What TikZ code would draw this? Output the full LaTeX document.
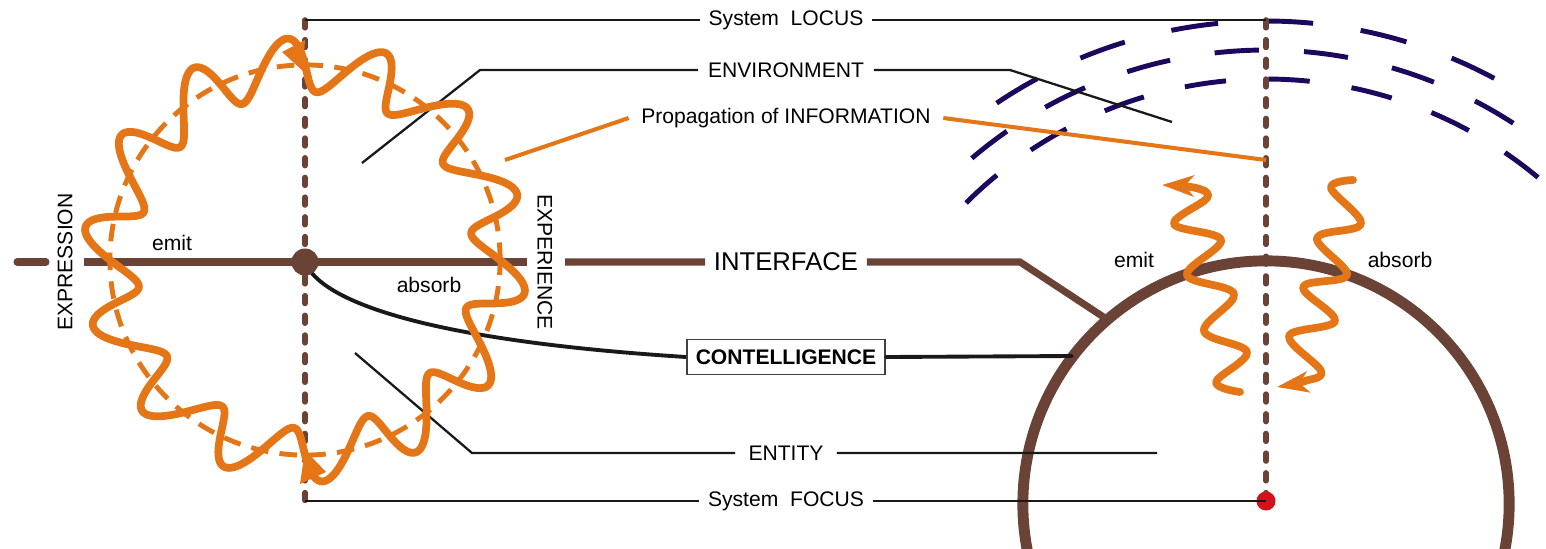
\documentclass[tikz,border=0pt]{standalone}
\usepackage{fontspec}
\setmainfont{Liberation Sans}
\usetikzlibrary{arrows.meta,positioning,calc}

\definecolor{orangewave}{RGB}{228,118,24}
\definecolor{brownbar}{RGB}{107,66,54}
\definecolor{navyarc}{RGB}{28,8,92}
\definecolor{focusred}{RGB}{208,18,28}

\begin{document}
\begin{tikzpicture}[
    x=0.01cm, y=-0.01cm,
    lbl/.style={font=\fontsize{6}{7.2}\selectfont, inner sep=2.3pt},
    guide/.style={draw=black!90, line width=0.65pt},
    bar/.style={draw=brownbar, line width=2pt},
    vaxis/.style={draw=brownbar, line width=1.6pt, line cap=round, dash pattern=on 2.2pt off 3.4pt},
    wave/.style={draw=orangewave, line width=2.2pt, line cap=round, line join=round},
    infoline/.style={draw=orangewave, line width=1.15pt},
    arcdash/.style={draw=navyarc, line width=1.4pt},
    wavetip/.style={-{Stealth[length=9pt, width=6pt, inset=2.5pt]}},
    dot/.style={circle, inner sep=0pt}
]
    % page frame
    \useasboundingbox (0,0) rectangle (1546,548);

    % outgoing fronts of the environment
    \foreach \r/\a/\n in {483/123.9/5, 454/130.4/6, 425/134.9/7}
        \foreach \k in {0,...,\n} {
            \pgfmathsetmacro{\sa}{\a-11.3*\k}
            \pgfmathsetmacro{\ea}{\sa-5.6}
            \draw[arcdash] plot[domain=\sa:\ea, samples=10, variable=\t] ({1266+\r*cos(\t)}, {504-\r*sin(\t)});
        }

    % the entity (big ring)
    \draw[brownbar, line width=3.1pt] (1266,504) circle[radius=2.43cm];

    % system axes
    \coordinate (ltop) at (305,20);
    \coordinate (lbot) at (305,501);
    \coordinate (rtop) at (1266,20);
    \coordinate (rbot) at (1266,501);
    \draw[vaxis] (ltop) -- (lbot);
    \draw[vaxis] (rtop) -- (rbot);
    \node[dot, fill=focusred, minimum size=0.19cm] (focus) at (rbot) {};

    % labels in the middle column
    \node[lbl] (locus) at (786,20) {System~~LOCUS};
    \node[lbl] (sysfocus) at (786,501) {System~~FOCUS};
    \node[lbl, inner sep=2.6pt] (env) at (786,70) {ENVIRONMENT};
    \node[lbl, inner sep=3.4pt] (prop) at (786,118) {Propagation of INFORMATION};
    \node[lbl, font=\fontsize{7.3}{8.5}\selectfont] (iface) at (786,262) {INTERFACE};
    \node[lbl, inner sep=3.6pt] (entity) at (786,453) {ENTITY};
    \node[lbl, draw=black!75, line width=0.5pt, fill=white, font=\fontsize{6}{7.2}\selectfont\bfseries,
          minimum width=1.98cm, minimum height=0.35cm] (contel) at (786,357) {CONTELLIGENCE};

    % side labels
    \node[lbl, rotate=90] (expr) at (65,262) {EXPRESSION};
    \node[lbl, rotate=-90] (exper) at (545,262) {EXPERIENCE};
    \node[lbl] (emitl) at (172,243) {emit};
    \node[lbl] (absl) at (429,285) {absorb};
    \node[lbl] (emitr) at (1134,260) {emit};
    \node[lbl] (absr) at (1400,260) {absorb};

    % black leaders
    \coordinate (envl) at (362,163);
    \coordinate (envk) at (480,70);
    \coordinate (envj) at (1010,70);
    \coordinate (envr) at (1172,122);
    \coordinate (entl) at (355,353);
    \coordinate (entk) at (472,453);
    \coordinate (entr) at (1157,453);
    \draw[guide] (ltop) -- (locus) -- (rtop);
    \draw[guide] (lbot) -- (sysfocus) -- (focus.center);
    \draw[guide] (envl) -- (envk) -- (env) -- (envj) -- (envr);
    \draw[guide] (entl) -- (entk) -- (entity) -- (entr);

    % interface bar
    \coordinate (ifa) at (17,262);
    \coordinate (ifb) at (46,262);
    \coordinate (ifc) at (84,262);
    \coordinate (ifd) at (527,262);
    \coordinate (ife) at (565,262);
    \coordinate (ifk) at (1020,262);
    \coordinate (ifr) at (1105,318);
    \draw[bar, line cap=round] (ifa) -- (ifb);
    \draw[bar] (ifc) -- (ifd);
    \draw[bar] (ife) -- (iface) -- (ifk) -- (ifr);

    % contelligence link
    \coordinate (hubpt) at (305,262);
    \coordinate (ringpt) at (1072,356);
    \draw[black!90, line width=1.1pt] (hubpt) .. controls (320,300) and (420,340) .. (contel.west);
    \draw[black!90, line width=1.1pt, line cap=round] (contel.east) -- (ringpt);

    % propagation of information
    \coordinate (propl) at (505,160);
    \coordinate (propr) at (1266,160);
    \draw[infoline] (propl) -- (prop.west);
    \draw[infoline] (prop.east) -- (propr);

    % wave round the locus
    \draw[orangewave, line width=1.4pt, dash pattern=on 5pt off 3.2pt] (305,260) circle[radius=1.95cm];
    \draw[wave] plot[domain=0:360, samples=901, variable=\t]
        ({305+(195+27*sin(14*\t))*cos(\t)-7*sin(14*\t)*sin(\t)},
         {260+(195+27*sin(14*\t))*sin(\t)+7*sin(14*\t)*cos(\t)}) -- cycle;
    \fill[orangewave] (282,52) -- (305,40) -- (303,71) -- cycle;
    \fill[orangewave] (300,484) -- (326,472) -- (305,450) -- cycle;

    % emit and absorb at the entity
    \draw[wave, wavetip] plot[smooth, tension=0.6] coordinates {(1240,392) (1216,382) (1247,352) (1204,331)
        (1234,294) (1187,275) (1221,240) (1174,224) (1207,198) (1196,188) (1162,185)};
    \draw[wave, wavetip] plot[smooth, tension=0.6] coordinates {(1353,180) (1331,188) (1361,224) (1317,238)
        (1347,275) (1303,287) (1335,321) (1289,336) (1321,371) (1305,381) (1277,387)};

    % hub
    \node[dot, fill=brownbar, minimum size=0.27cm] (hub) at (hubpt) {};
\end{tikzpicture}
\end{document}
